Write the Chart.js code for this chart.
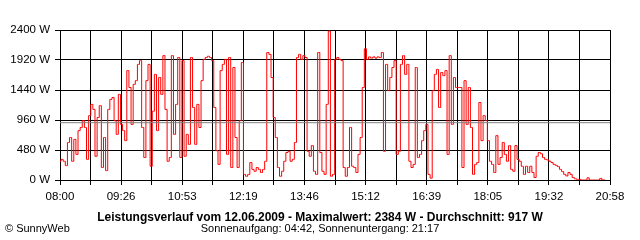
<!DOCTYPE html>
<html>
<head>
<meta charset="utf-8">
<script src="https://cdn.jsdelivr.net/npm/chart.js@4"></script>
<style>
  body { margin: 0; background: #fff; }
</style>
</head>
<body>
<canvas id="powerChart" width="640" height="240"></canvas>
<script>
// day data (SunnyWeb export, 12.06.2009), one sample every 3 minutes from 08:00
const day = '12.06.2009';
const sampleMinutes = 3;
const watts = [
    300, 330, 300, 230, 600, 680, 300, 650, 410, 790, 840, 950, 840, 330, 1030, 1210, 1130, 380, 1000, 1190, 200, 680,
    150, 1130, 1290, 1320, 950, 730, 1370, 890, 790, 630, 1750, 1480, 890, 1530, 1590, 1850, 1910, 840, 360, 1590, 1850, 220,
    1100, 1690, 790, 1640, 1370, 1990, 1130, 300, 360, 1990, 730, 1210, 1960, 360, 1910, 380, 730, 570, 1960, 1160, 570, 1210,
    840, 1590, 1930, 1960, 1980, 1960, 1910, 1160, 470, 250, 1750, 1850, 1930, 410, 1960, 200, 1800, 680, 200, 950, 1880,
    90, 60, 90, 280, 170, 140, 200, 170, 120, 170, 300, 2040, 2010, 1640, 1000, 680, 200, 60, 140, 300, 440, 460,
    300, 330, 600, 1960, 2010, 1930, 1990, 1960, 460, 380, 550, 140, 90, 2040, 440, 140, 90, 1210, 2384, 60, 90, 1930,
    1960, 1930, 1910, 200, 60, 200, 840, 220, 200, 120, 410, 680, 1480, 2100, 1930, 1970, 1950, 1970, 1950, 1970, 1960, 2040,
    460, 1850, 1430, 1640, 1800, 1910, 410, 460, 1850, 1990, 1690, 1850, 300, 200, 250, 1800, 360, 410, 630, 790, 890,
    90, 30, 1430, 1690, 1770, 1160, 1720, 1670, 1750, 410, 1990, 890, 1640, 1480, 1480, 1480, 200, 1590, 890, 1480, 840, 90,
    250, 280, 1240, 630, 1030, 950, 630, 300, 250, 120, 710, 250, 360, 600, 410, 300, 550, 170, 140, 550, 330, 300,
    220, 90, 220, 120, 220, 120, 40, 380, 440, 420, 360, 330, 320, 300, 280, 250, 235, 215, 170, 135,
    90, 65, 120, 90, 40, 20, 10, 10, 0, 0, 0, 35, 0, 0, 0, 0, 0, 25, 0, 0
];
const average = 917;
const maximum = 2384;
const sunrise = '04:42';
const sunset = '21:17';

// axis
const spanMinutes = 778; // 08:00 .. 20:58
const xTickLabels = ['08:00', '', '09:26', '', '10:53', '', '12:19', '', '13:46', '', '15:12', '', '16:39', '', '18:05', '', '19:32', '', '20:58'];
const yTicks = [0, 480, 960, 1440, 1920, 2400];

const fontFamily = '"Liberation Sans", Arial, sans-serif';

// texts under the chart
const footerText = {
    id: 'footerText',
    afterDraw(chart) {
        const ctx = chart.ctx;
        ctx.save();
        ctx.fillStyle = '#000';
        ctx.textBaseline = 'alphabetic';
        ctx.textAlign = 'center';
        ctx.font = 'bold 12px ' + fontFamily;
        ctx.fillText('Leistungsverlauf vom ' + day + ' - Maximalwert: ' + maximum + ' W - Durchschnitt: ' + average + ' W', 320, 221);
        ctx.font = '11px ' + fontFamily;
        ctx.fillText('Sonnenaufgang: ' + sunrise + ', Sonnenuntergang: ' + sunset, 320, 232);
        ctx.textAlign = 'left';
        ctx.fillText('\u00A9 SunnyWeb', 5, 232);
        ctx.restore();
    }
};

const ctx = document.getElementById('powerChart').getContext('2d');
new Chart(ctx, {
    type: 'line',
    data: {
        datasets: [
            {
                label: 'Leistung',
                data: watts.map((w, i) => ({ x: i * sampleMinutes, y: w })),
                borderColor: '#ff0000',
                borderWidth: 1,
                pointRadius: 0,
                stepped: 'middle',
                fill: false,
                order: 2,
            },
            {
                label: 'Durchschnitt',
                data: [{ x: 0, y: average }, { x: spanMinutes, y: average }],
                borderColor: '#808080',
                borderWidth: 1,
                pointRadius: 0,
                fill: false,
                order: 1,
            },
        ],
    },
    options: {
        responsive: false,
        animation: false,
        events: [],
        layout: { padding: { top: 30, right: 30, left: 0, bottom: 0 } },
        plugins: {
            legend: { display: false },
            tooltip: { enabled: false },
        },
        scales: {
            x: {
                type: 'linear',
                min: 0,
                max: spanMinutes,
                z: 1,
                afterBuildTicks: scale => {
                    scale.ticks = xTickLabels.map((l, i) => ({ value: i * spanMinutes / 18 }));
                },
                afterFit: scale => { scale.height = 60; },
                ticks: {
                    autoSkip: false,
                    maxRotation: 0,
                    padding: 5,
                    color: '#000',
                    font: { family: fontFamily, size: 11.5 },
                    callback: (v, i) => xTickLabels[i],
                },
                grid: { color: '#000', tickColor: '#000', tickLength: 5, lineWidth: 1 },
                border: { color: '#000' },
            },
            y: {
                min: 0,
                max: 2400,
                z: 1,
                afterBuildTicks: scale => {
                    scale.ticks = yTicks.map(v => ({ value: v }));
                },
                afterFit: scale => { scale.width = 60; },
                ticks: {
                    padding: 5,
                    color: '#000',
                    font: { family: fontFamily, size: 11.5 },
                    callback: v => v + ' W',
                },
                grid: { color: '#000', tickColor: '#000', tickLength: 5, lineWidth: 1 },
                border: { color: '#000' },
            },
        },
    },
    plugins: [footerText],
});
</script>
</body>
</html>
